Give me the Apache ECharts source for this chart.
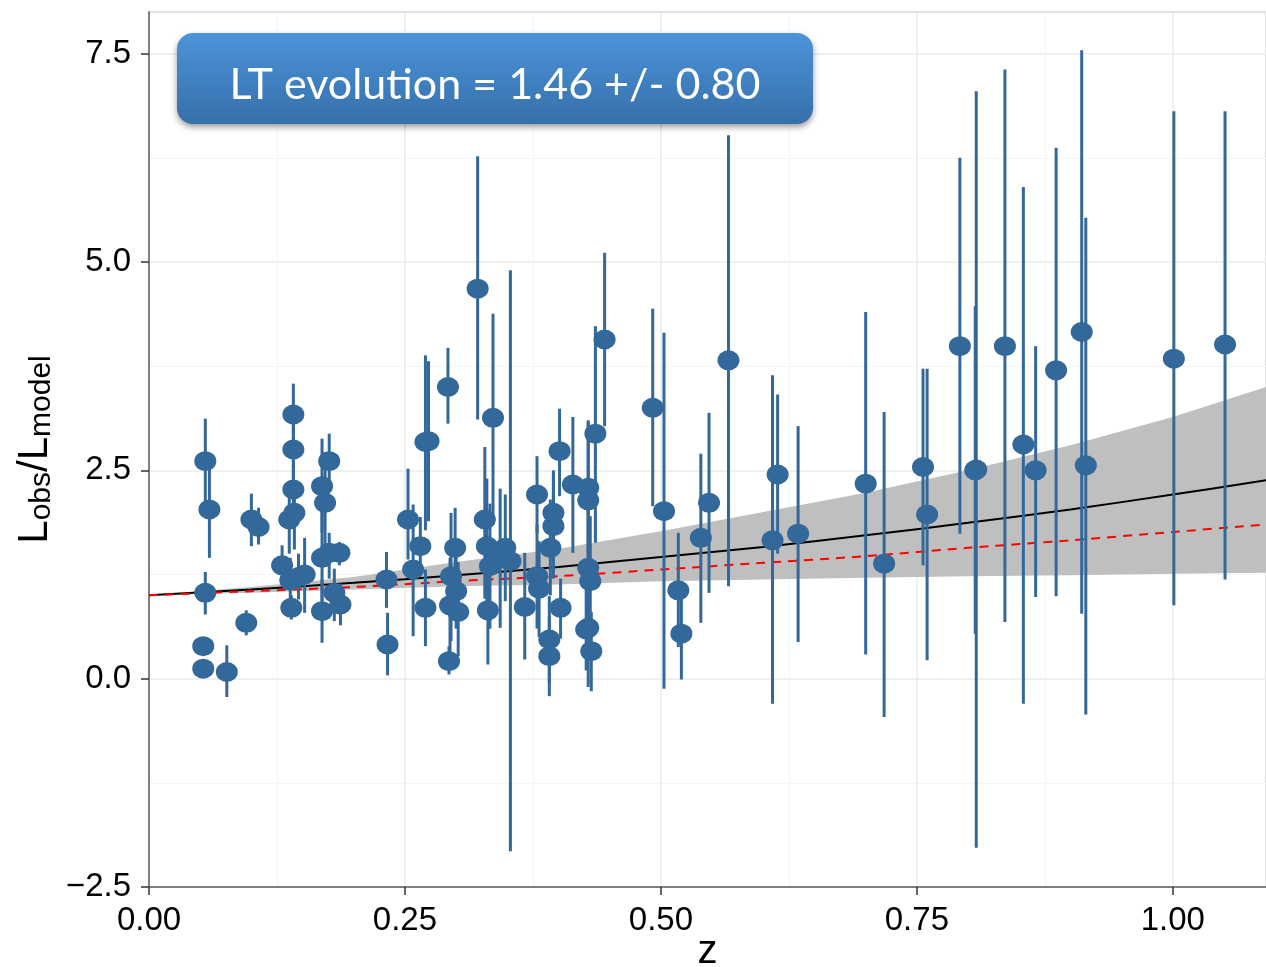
<!DOCTYPE html>
<html>
<head>
<meta charset="utf-8">
<title>LT evolution</title>
<script src="https://cdn.jsdelivr.net/npm/echarts@6/dist/echarts.min.js"></script>
<style>
  html, body { margin: 0; padding: 0; background: #ffffff; }
  #chart { width: 1266px; height: 967px; }
</style>
</head>
<body>
<div id="chart"></div>
<script>
// Redshift of each cluster
const zValues = [
  0.055, 0.059, 0.055, 0.053, 0.053, 0.076, 0.095, 0.100, 0.107, 0.130,
  0.141, 0.141, 0.141, 0.142, 0.137, 0.138, 0.146, 0.139, 0.152, 0.169,
  0.172, 0.176, 0.169, 0.176, 0.186, 0.169, 0.181, 0.187, 0.232, 0.233,
  0.253, 0.258, 0.265, 0.270, 0.270, 0.273, 0.292, 0.299, 0.295, 0.300,
  0.294, 0.302, 0.293, 0.321, 0.336, 0.328, 0.330, 0.333, 0.348, 0.353,
  0.343, 0.331, 0.367, 0.379, 0.379, 0.381, 0.391, 0.391, 0.392, 0.395,
  0.395, 0.401, 0.402, 0.414, 0.429, 0.429, 0.436, 0.445, 0.429, 0.431,
  0.429, 0.427, 0.432, 0.492, 0.503, 0.517, 0.520, 0.539, 0.547, 0.566,
  0.609, 0.614, 0.634, 0.700, 0.718, 0.756, 0.760, 0.792, 0.808, 0.807,
  0.836, 0.854, 0.866, 0.886, 0.911, 0.915, 1.001, 1.051
];
// Observed / model luminosity ratio
const ratioValues = [
  2.61, 2.03, 1.03, 0.39, 0.12, 0.08, 0.67, 1.91, 1.82, 1.36,
  3.17, 2.75, 2.27, 1.99, 1.91, 1.18, 1.22, 0.85, 1.25, 2.31,
  2.11, 2.61, 1.45, 1.51, 1.51, 0.81, 1.03, 0.89, 1.19, 0.41,
  1.91, 1.31, 1.59, 0.85, 2.84, 2.85, 3.50, 1.57, 1.23, 1.05,
  0.88, 0.80, 0.21, 4.68, 3.13, 1.91, 1.59, 1.35, 1.57, 1.41,
  1.45, 0.82, 0.86, 2.21, 1.23, 1.08, 0.47, 0.27, 1.57, 1.83,
  1.99, 2.73, 0.85, 2.33, 2.29, 2.14, 2.94, 4.07, 1.33, 1.17,
  0.61, 0.59, 0.33, 3.25, 2.01, 1.06, 0.54, 1.69, 2.11, 3.82,
  1.66, 2.45, 1.74, 2.34, 1.38, 2.54, 1.97, 3.99, 2.51, 2.50,
  3.99, 2.81, 2.50, 3.70, 4.16, 2.56, 3.84, 4.01
];
// Lower end of each error bar
const ratioLow = [
  2.05, 1.45, 0.77, 0.30, 0.04, -0.22, 0.52, 1.59, 1.61, 1.12,
  2.80, 2.40, 1.92, 1.55, 1.50, 0.95, 0.95, 0.71, 0.79, 1.75,
  1.50, 2.30, 0.90, 1.20, 1.36, 0.43, 0.69, 0.64, 0.85, 0.04,
  1.43, 0.51, 1.25, 0.39, 1.78, 1.89, 3.06, 1.10, 0.45, 0.60,
  0.30, 0.27, 0.05, 3.11, 1.85, 0.96, 0.90, 0.60, 0.93, -2.07,
  0.61, 0.17, 0.23, 1.75, 0.60, 0.50, -0.05, -0.21, 1.00, 1.20,
  1.50, 2.19, 0.48, 1.51, 1.50, 1.20, 1.63, 3.03, 0.60, 0.40,
  -0.10, 0.10, -0.15, 2.07, -0.12, 0.38, -0.01, 0.67, 1.03, 1.11,
  -0.30, 1.50, 0.44, 0.29, -0.46, 1.36, 0.22, 1.74, -2.03, 0.54,
  0.68, -0.30, 0.98, 0.99, 0.78, -0.43, 0.88, 1.19
];
// Upper end of each error bar
const ratioHigh = [
  3.12, 2.60, 1.28, 0.48, 0.20, 0.40, 0.82, 2.22, 2.05, 1.60,
  3.54, 3.10, 2.62, 2.35, 2.30, 1.45, 1.50, 1.00, 1.69, 2.88,
  2.72, 2.94, 2.00, 1.75, 1.64, 1.19, 1.32, 1.14, 1.52, 0.79,
  2.52, 2.09, 1.94, 1.31, 3.88, 3.81, 3.97, 2.05, 1.99, 1.50,
  1.45, 1.40, 0.39, 6.27, 4.38, 2.78, 2.40, 2.10, 2.21, 4.90,
  2.28, 1.47, 1.51, 2.67, 1.85, 1.65, 0.99, 0.75, 2.15, 2.45,
  2.50, 3.24, 1.20, 3.14, 3.07, 3.10, 4.23, 5.11, 2.05, 1.95,
  1.30, 1.08, 0.80, 4.44, 4.15, 1.75, 1.05, 2.70, 3.19, 6.52,
  3.64, 3.41, 3.03, 4.40, 3.20, 3.72, 3.72, 6.25, 7.05, 4.47,
  7.31, 5.90, 3.99, 6.37, 7.54, 5.53, 6.81, 6.81
];

// Fitted evolution curve, its confidence band and the self-similar curve
const curveZ      = [0, 0.1, 0.2, 0.3, 0.4, 0.5, 0.6, 0.7, 0.8, 0.9, 1.0, 1.091];
const fitCurve    = [1.00, 1.07, 1.15, 1.24, 1.34, 1.46, 1.58, 1.72, 1.87, 2.03, 2.21, 2.38];
const bandUpper   = [1.00, 1.10, 1.22, 1.40, 1.56, 1.77, 2.00, 2.23, 2.50, 2.80, 3.14, 3.50];
const bandLower   = [1.00, 1.03, 1.07, 1.11, 1.13, 1.17, 1.19, 1.21, 1.23, 1.24, 1.26, 1.27];
const selfSimilar = [1.00, 1.05, 1.10, 1.17, 1.23, 1.31, 1.39, 1.47, 1.57, 1.66, 1.76, 1.85];

const xTicks = [0, 0.25, 0.5, 0.75, 1.0];
const yTicks = [-2.5, 0, 2.5, 5, 7.5];

const POINT_COLOR = '#33689a';
const FONT = '"Liberation Sans", Arial, Helvetica, sans-serif';

const points = zValues.map((z, i) => [z, ratioValues[i]]);
const bars = zValues.map((z, i) => [z, ratioLow[i], ratioHigh[i]]);

const chart = echarts.init(document.getElementById('chart'), null, { renderer: 'canvas' });

const option = {
  animation: false,
  backgroundColor: '#ffffff',
  grid: {
    left: 149, top: 12, right: 0, bottom: 80,
    outerBoundsMode: 'none',
    containLabel: false,
    show: true, borderColor: '#8c8c8c', borderWidth: 1, backgroundColor: 'transparent'
  },
  xAxis: {
    type: 'value',
    min: 0, max: 1.091, interval: 0.25,
    name: 'z', nameLocation: 'middle', nameGap: 45, nameMoveOverlap: false,
    nameTextStyle: { fontSize: 40, fontFamily: FONT, color: '#000' },
    axisLine: { show: true, onZero: false, lineStyle: { color: '#7f7f7f', width: 2 } },
    axisTick: { show: true, length: 8, lineStyle: { color: '#333', width: 1.5 } },
    axisLabel: {
      fontSize: 33, fontFamily: FONT, color: '#000', margin: 17, showMaxLabel: false,
      formatter: v => (xTicks.indexOf(v) >= 0 ? v.toFixed(2) : '')
    },
    splitLine: { show: true, lineStyle: { color: '#ebebeb', width: 1.5 } },
    minorTick: { show: false, splitNumber: 2 },
    minorSplitLine: { show: true, lineStyle: { color: '#f5f5f5', width: 1 } }
  },
  yAxis: {
    type: 'value',
    min: -2.5, max: 8.0, interval: 2.5,
    name: '{m|L}{s|obs}{m|/L}{s|model}',
    nameLocation: 'middle', nameRotate: 90, nameGap: 92, nameMoveOverlap: false,
    nameTextStyle: {
      color: '#000',
      rich: {
        m: { fontSize: 42, fontFamily: FONT, color: '#000', lineHeight: 44 },
        s: { fontSize: 30, fontFamily: FONT, color: '#000', verticalAlign: 'bottom', lineHeight: 26 }
      }
    },
    axisLine: { show: true, onZero: false, lineStyle: { color: '#7f7f7f', width: 2 } },
    axisTick: { show: true, length: 8, lineStyle: { color: '#333', width: 1.5 } },
    axisLabel: {
      fontSize: 33, fontFamily: FONT, color: '#000', margin: 18, showMaxLabel: false,
      formatter: v => (yTicks.indexOf(v) >= 0 ? (v < 0 ? '\u2212' + Math.abs(v).toFixed(1) : v.toFixed(1)) : '')
    },
    splitLine: { show: true, lineStyle: { color: '#ebebeb', width: 1.5 } },
    minorTick: { show: false, splitNumber: 2 },
    minorSplitLine: { show: true, lineStyle: { color: '#f5f5f5', width: 1 } }
  },
  series: [
    {
      // confidence band of the fitted evolution
      type: 'custom',
      z: 1,
      silent: true,
      data: [[0, 1]],
      encode: { x: 0, y: 1 },
      renderItem: function (params, api) {
        const pts = [];
        for (let i = 0; i < curveZ.length; i++) pts.push(api.coord([curveZ[i], bandUpper[i]]));
        for (let i = curveZ.length - 1; i >= 0; i--) pts.push(api.coord([curveZ[i], bandLower[i]]));
        return { type: 'polygon', shape: { points: pts }, style: { fill: '#bfbfbf' } };
      }
    },
    {
      type: 'line',
      z: 2,
      data: curveZ.map((z, i) => [z, fitCurve[i]]),
      showSymbol: false,
      smooth: 0.3,
      lineStyle: { color: '#000', width: 2 }
    },
    {
      type: 'line',
      z: 3,
      data: curveZ.map((z, i) => [z, selfSimilar[i]]),
      showSymbol: false,
      smooth: 0.3,
      lineStyle: { color: '#ff0000', width: 2, type: [9, 7] }
    },
    {
      // vertical error bars
      type: 'custom',
      z: 4,
      data: bars,
      encode: { x: 0, y: [1, 2] },
      renderItem: function (params, api) {
        const a = api.coord([api.value(0), api.value(1)]);
        const b = api.coord([api.value(0), api.value(2)]);
        return {
          type: 'line',
          shape: { x1: a[0], y1: a[1], x2: b[0], y2: b[1] },
          style: { stroke: POINT_COLOR, lineWidth: 3 }
        };
      }
    },
    {
      type: 'scatter',
      z: 5,
      data: points,
      symbol: 'circle',
      symbolSize: [22, 20],
      itemStyle: { color: POINT_COLOR, opacity: 1 }
    }
  ],
  graphic: {
    zlevel: 5,
    z: 100,
    elements: [
      {
        // banner with the fitted evolution parameter
        type: 'rect',
        left: 177, top: 33,
        zlevel: 5, z: 100,
        shape: { width: 636, height: 91, r: 16 },
        style: {
          fill: new echarts.graphic.LinearGradient(0, 0, 0, 1, [
            { offset: 0, color: '#4b94d8' },
            { offset: 1, color: '#366fab' }
          ]),
          shadowBlur: 6, shadowOffsetX: 0, shadowOffsetY: 3,
          shadowColor: 'rgba(0,0,0,0.4)'
        }
      },
      {
        type: 'text',
        x: 495, y: 85,
        zlevel: 5, z: 101,
        style: {
          text: 'LT evolution = 1.46 +/- 0.80',
          align: 'center', verticalAlign: 'middle',
          fill: '#ffffff',
          fontSize: 43,
          fontFamily: 'Lato, "Open Sans", sans-serif'
        }
      }
    ]
  }
};

chart.setOption(option);
</script>
</body>
</html>
